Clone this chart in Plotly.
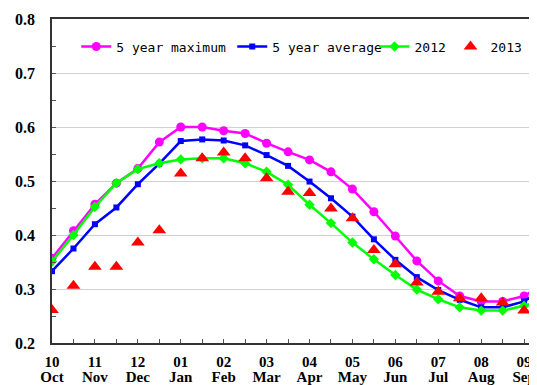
import plotly.graph_objects as go

# half-month steps starting at Oct
month_nums = ["10", "11", "12", "01", "02", "03", "04", "05", "06", "07", "08", "09"]
month_names = ["Oct", "Nov", "Dec", "Jan", "Feb", "Mar", "Apr", "May", "Jun", "Jul", "Aug", "Sep"]

max5 = [0.357, 0.408, 0.457, 0.496, 0.523, 0.572, 0.600, 0.600, 0.593, 0.588, 0.570, 0.554,
        0.539, 0.517, 0.485, 0.443, 0.398, 0.352, 0.315, 0.287, 0.277, 0.277, 0.287, 0.311]
avg5 = [0.333, 0.375, 0.420, 0.451, 0.494, 0.532, 0.574, 0.577, 0.575, 0.566, 0.548, 0.528,
        0.499, 0.468, 0.434, 0.392, 0.354, 0.322, 0.298, 0.280, 0.266, 0.266, 0.277, 0.302]
y2012 = [0.351, 0.400, 0.452, 0.496, 0.522, 0.533, 0.540, 0.542, 0.542, 0.533, 0.517, 0.493,
         0.456, 0.422, 0.386, 0.355, 0.326, 0.299, 0.281, 0.266, 0.260, 0.260, 0.269, 0.281]
y2013 = [0.261, 0.306, 0.341, 0.341, 0.386, 0.409, 0.514, 0.542, 0.553, 0.542, 0.505, 0.480,
         0.478, 0.449, 0.431, 0.372, 0.346, 0.312, 0.295, 0.283, 0.283, 0.275, 0.260]

def xs(vals):
    return [i * 0.5 for i in range(len(vals))]

fig = go.Figure()

fig.add_trace(go.Scatter(x=xs(max5), y=max5, mode='lines+markers', name='5 year maximum',
                         line=dict(color='#ff00ff', width=2.5), legend='legend',
                         marker=dict(symbol='circle', size=9, color='#ff00ff')))
fig.add_trace(go.Scatter(x=xs(avg5), y=avg5, mode='lines+markers', name='5 year average',
                         line=dict(color='#0000ff', width=2.5), legend='legend',
                         marker=dict(symbol='square', size=6, color='#0000ff')))
fig.add_trace(go.Scatter(x=xs(y2012), y=y2012, mode='lines+markers', name='2012',
                         line=dict(color='#00ff00', width=2.5), legend='legend2',
                         marker=dict(symbol='diamond', size=8, color='#00ff00')))
fig.add_trace(go.Scatter(x=xs(y2013), y=y2013, mode='markers', name='2013', legend='legend2',
                         marker=dict(symbol='triangle-up', size=12, color='#ff0000')))
# second x axis only carries the month names under the numbers
fig.add_trace(go.Scatter(x=[0], y=[None], xaxis='x2', showlegend=False, hoverinfo='skip'))

tickvals = [i * 0.5 for i in range(2 * len(month_nums))]
num_text = [month_nums[i // 2] if i % 2 == 0 else "" for i in range(len(tickvals))]
name_vals = [float(i) for i in range(len(month_names))]

bold = dict(family='Liberation Serif', size=16, color='black', weight='bold')
xbold = dict(family='Liberation Serif', size=15, color='black', weight='bold')
mono = dict(family='DejaVu Sans Mono', size=13, color='black')

fig.update_layout(
    xaxis=dict(range=[0, 11.3], tickvals=tickvals, ticktext=num_text, automargin=False,
               ticks='inside', ticklen=4, tickcolor='#555555', ticklabelstandoff=4,
               showline=True, linewidth=1.5, linecolor='#333333', mirror=True,
               showgrid=False, zeroline=False, tickfont=xbold),
    xaxis2=dict(range=[0, 11.3], overlaying='x', anchor='y', side='bottom', automargin=False,
                tickvals=name_vals, ticktext=month_names, ticks='',
                ticklabelstandoff=23, showline=False, showgrid=False, zeroline=False,
                tickfont=xbold),
    yaxis=dict(range=[0.2, 0.8], dtick=0.1, tickformat='.1f', automargin=False,
               ticks='inside', ticklen=4, tickcolor='#555555', ticklabelstandoff=12,
               minor=dict(dtick=0.05, ticks='inside', ticklen=4, tickcolor='#555555', showgrid=False),
               showline=True, linewidth=1.5, linecolor='#333333',
               showgrid=True, gridcolor='#d0d0d0', gridwidth=1, zeroline=False,
               tickfont=bold),
    width=529, height=377, margin=dict(l=44, r=0, t=11, b=42),
    plot_bgcolor='white', paper_bgcolor='white', showlegend=True,
    legend=dict(orientation='h', x=0.05, y=0.915, xanchor='left', yanchor='middle',
                entrywidth=111, entrywidthmode='pixels',
                bgcolor='rgba(0,0,0,0)', font=mono),
    legend2=dict(orientation='h', x=0.665, y=0.915, xanchor='left', yanchor='middle',
                 entrywidth=31, entrywidthmode='pixels',
                 bgcolor='rgba(0,0,0,0)', font=mono),
)

fig.write_html("out.html")
